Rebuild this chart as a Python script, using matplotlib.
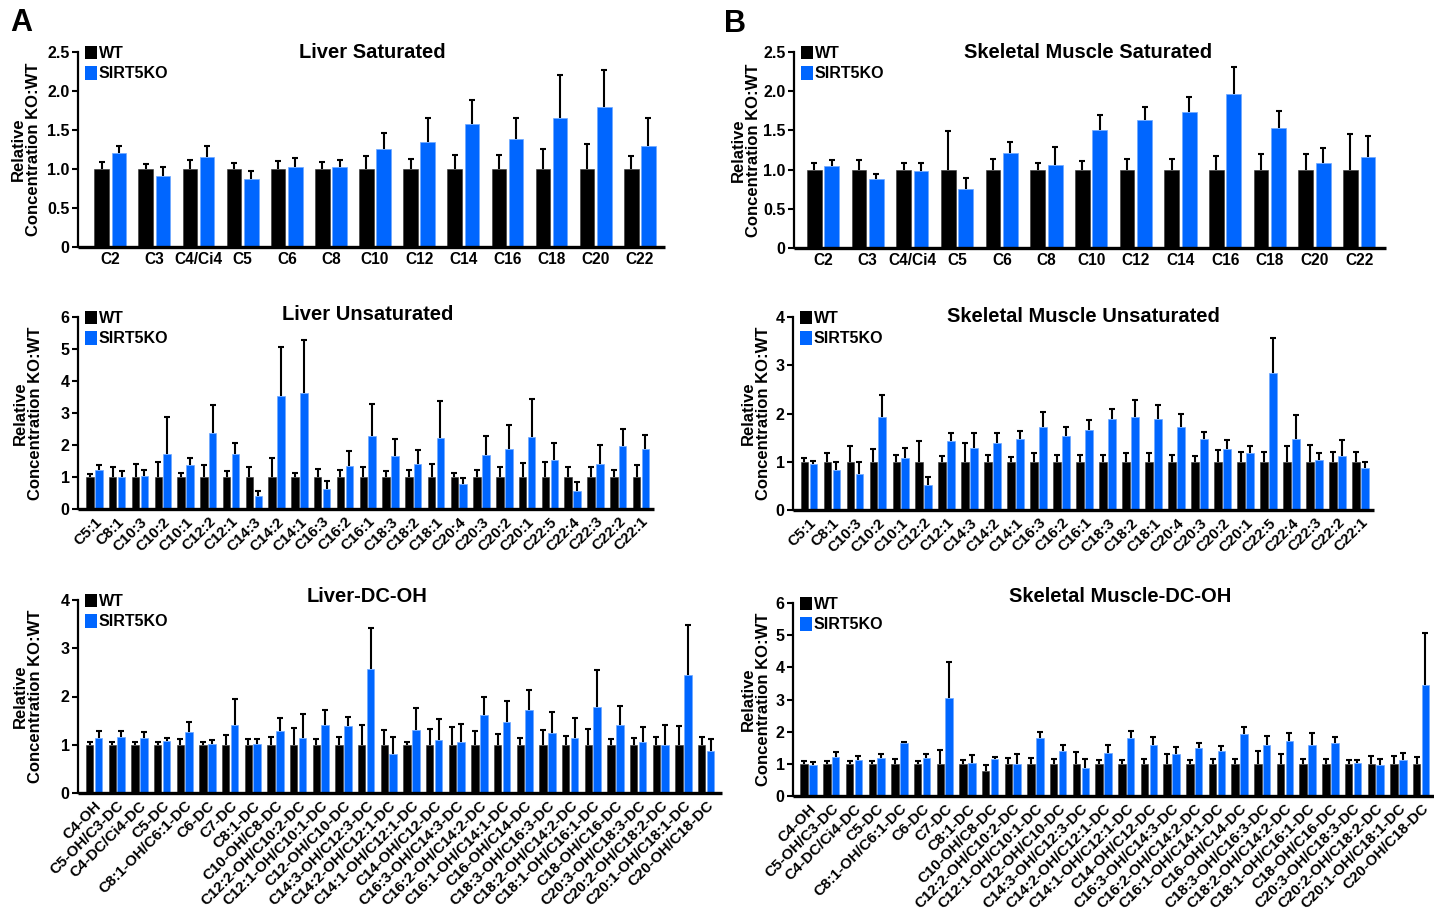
import numpy as np
import matplotlib
matplotlib.use("Agg")
import matplotlib.pyplot as plt
from matplotlib.patches import Patch

plt.rcParams['font.family'] = ['Liberation Sans', 'DejaVu Sans']
plt.rcParams['font.weight'] = 'bold'

# ---------------- data ----------------
sat_labels = ['C2', 'C3', 'C4/Ci4', 'C5', 'C6', 'C8', 'C10', 'C12', 'C14', 'C16', 'C18', 'C20', 'C22']

liver_sat_wt = [1.0, 1.0, 1.0, 1.0, 1.0, 1.0, 1.0, 1.0, 1.0, 1.0, 1.0, 1.0, 1.0]
liver_sat_wt_sem = [0.09, 0.07, 0.11, 0.08, 0.10, 0.09, 0.17, 0.13, 0.18, 0.18, 0.26, 0.32, 0.17]
liver_sat_ko = [1.21, 0.91, 1.15, 0.87, 1.03, 1.02, 1.25, 1.35, 1.58, 1.39, 1.65, 1.79, 1.29]
liver_sat_ko_sem = [0.09, 0.12, 0.14, 0.10, 0.11, 0.09, 0.21, 0.30, 0.31, 0.26, 0.56, 0.48, 0.36]

muscle_sat_wt = [1.0, 1.0, 1.0, 1.0, 1.0, 1.0, 1.0, 1.0, 1.0, 1.0, 1.0, 1.0, 1.0]
muscle_sat_wt_sem = [0.08, 0.12, 0.09, 0.49, 0.13, 0.09, 0.11, 0.13, 0.14, 0.17, 0.20, 0.20, 0.46]
muscle_sat_ko = [1.04, 0.88, 0.98, 0.75, 1.21, 1.06, 1.50, 1.63, 1.74, 1.97, 1.53, 1.08, 1.16]
muscle_sat_ko_sem = [0.08, 0.06, 0.10, 0.14, 0.14, 0.23, 0.20, 0.17, 0.19, 0.34, 0.22, 0.20, 0.27]

unsat_labels = ['C5:1', 'C8:1', 'C10:3', 'C10:2', 'C10:1', 'C12:2', 'C12:1', 'C14:3', 'C14:2',
                'C14:1', 'C16:3', 'C16:2', 'C16:1', 'C18:3', 'C18:2', 'C18:1', 'C20:4', 'C20:3',
                'C20:2', 'C20:1', 'C22:5', 'C22:4', 'C22:3', 'C22:2', 'C22:1']

liver_unsat_wt = [1.0] * 25
liver_unsat_wt_sem = [0.08, 0.31, 0.42, 0.48, 0.14, 0.37, 0.18, 0.30, 0.58, 0.11, 0.24, 0.22, 0.31,
                      0.18, 0.23, 0.42, 0.12, 0.21, 0.32, 0.43, 0.48, 0.30, 0.31, 0.23, 0.37]
liver_unsat_ko = [1.22, 1.01, 1.04, 1.73, 1.37, 2.37, 1.71, 0.42, 3.53, 3.63, 0.64, 1.33, 2.27,
                  1.66, 1.41, 2.23, 0.77, 1.68, 1.88, 2.26, 1.54, 0.55, 1.41, 1.97, 1.86]
liver_unsat_ko_sem = [0.16, 0.17, 0.18, 1.13, 0.21, 0.88, 0.36, 0.15, 1.53, 1.65, 0.25, 0.48, 1.00,
                      0.54, 0.42, 1.15, 0.21, 0.61, 0.75, 1.17, 0.51, 0.28, 0.58, 0.53, 0.46]

muscle_unsat_wt = [1.0] * 25
muscle_unsat_wt_sem = [0.07, 0.19, 0.32, 0.26, 0.14, 0.44, 0.12, 0.38, 0.14, 0.10, 0.19, 0.13, 0.13,
                       0.15, 0.19, 0.18, 0.13, 0.12, 0.25, 0.21, 0.20, 0.32, 0.35, 0.20, 0.20]
muscle_unsat_ko = [0.95, 0.83, 0.75, 1.92, 1.07, 0.52, 1.43, 1.29, 1.38, 1.48, 1.72, 1.54, 1.66,
                   1.89, 1.93, 1.88, 1.72, 1.47, 1.26, 1.18, 2.83, 1.47, 1.03, 1.12, 0.87]
muscle_unsat_ko_sem = [0.06, 0.16, 0.24, 0.46, 0.22, 0.16, 0.16, 0.30, 0.21, 0.16, 0.31, 0.19, 0.20,
                       0.21, 0.34, 0.29, 0.27, 0.14, 0.20, 0.14, 0.73, 0.49, 0.16, 0.34, 0.12]

dcoh_labels = ['C4-OH', 'C5-OH/C3-DC', 'C4-DC/Ci4-DC', 'C5-DC', 'C8:1-OH/C6:1-DC', 'C6-DC', 'C7-DC',
               'C8:1-DC', 'C10-OH/C8-DC', 'C12:2-OH/C10:2-DC', 'C12:1-OH/C10:1-DC', 'C12-OH/C10-DC',
               'C14:3-OH/C12:3-DC', 'C14:2-OH/C12:1-DC', 'C14:1-OH/C12:1-DC', 'C14-OH/C12-DC',
               'C16:3-OH/C14:3-DC', 'C16:2-OH/C14:2-DC', 'C16:1-OH/C14:1-DC', 'C16-OH/C14-DC',
               'C18:3-OH/C16:3-DC', 'C18:2-OH/C14:2-DC', 'C18:1-OH/C16:1-DC', 'C18-OH/C16-DC',
               'C20:3-OH/C18:3-DC', 'C20:2-OH/C18:2-DC', 'C20:1-OH/C18:1-DC', 'C20-OH/C18-DC']

liver_dcoh_wt = [1.0] * 28
liver_dcoh_wt_sem = [0.05, 0.05, 0.05, 0.06, 0.12, 0.06, 0.20, 0.11, 0.17, 0.34, 0.11, 0.17, 0.41, 0.31,
                     0.05, 0.33, 0.37, 0.29, 0.23, 0.14, 0.31, 0.18, 0.32, 0.12, 0.13, 0.17, 0.38, 0.17]
liver_dcoh_ko = [1.15, 1.17, 1.15, 1.07, 1.26, 1.02, 1.40, 1.02, 1.29, 1.14, 1.41, 1.38, 2.56, 0.81,
                 1.31, 1.09, 1.06, 1.62, 1.48, 1.71, 1.25, 1.15, 1.78, 1.40, 1.06, 1.00, 2.45, 0.88]
liver_dcoh_ko_sem = [0.14, 0.12, 0.11, 0.08, 0.21, 0.07, 0.54, 0.09, 0.27, 0.50, 0.30, 0.20, 0.85, 0.36,
                     0.45, 0.44, 0.36, 0.38, 0.42, 0.42, 0.42, 0.41, 0.77, 0.40, 0.31, 0.40, 1.04, 0.24]

muscle_dcoh_wt = [1.0, 1.0, 1.0, 1.0, 1.0, 1.0, 1.0, 1.0, 0.79, 1.0, 1.0, 1.0, 1.0, 1.0,
                  1.0, 1.0, 1.0, 1.0, 1.0, 1.0, 1.0, 1.0, 1.0, 1.0, 1.0, 1.0, 1.0, 1.0]
muscle_dcoh_wt_sem = [0.09, 0.08, 0.08, 0.10, 0.16, 0.08, 0.43, 0.13, 0.18, 0.19, 0.19, 0.15, 0.36, 0.13,
                      0.12, 0.16, 0.30, 0.12, 0.14, 0.14, 0.40, 0.30, 0.14, 0.16, 0.11, 0.23, 0.24, 0.20]
muscle_dcoh_ko = [0.97, 1.20, 1.13, 1.18, 1.64, 1.19, 3.06, 1.04, 1.15, 1.01, 1.79, 1.41, 0.86, 1.35,
                  1.79, 1.60, 1.31, 1.50, 1.40, 1.93, 1.59, 1.72, 1.57, 1.66, 1.03, 0.95, 1.12, 3.46]
muscle_dcoh_ko_sem = [0.10, 0.16, 0.12, 0.14, 0.05, 0.13, 1.11, 0.25, 0.05, 0.31, 0.20, 0.16, 0.30, 0.23,
                      0.24, 0.22, 0.22, 0.16, 0.14, 0.20, 0.28, 0.25, 0.40, 0.18, 0.08, 0.20, 0.21, 1.60]

series_names = ['WT', 'SIRT5KO']
titles = ['Liver Saturated', 'Skeletal Muscle Saturated', 'Liver Unsaturated',
          'Skeletal Muscle Unsaturated', 'Liver-DC-OH', 'Skeletal Muscle-DC-OH']
ylabel_text = 'Relative\nConcentration KO:WT'

# ---------------- layout ----------------
W, H = 1434, 917
BLUE = '#0066ff'


def box(l, r, t, b):
    return [l / W, 1 - b / H, (r - l) / W, (b - t) / H]


fig = plt.figure(figsize=(W / 100, H / 100), dpi=100)


def draw_panel(rect, labels, wt, wt_sem, ko, ko_sem, title, ymax, ystep, yfmt,
               xlim, rotate, title_xy, ylab_x):
    ax = fig.add_axes(box(*rect))
    n = len(labels)
    x = np.arange(n)
    off, bw = 0.195, 0.33
    ax.bar(x - off, wt, width=bw, color='black', edgecolor='#333333', linewidth=0.4, zorder=2,
           label=series_names[0])
    ax.bar(x + off, ko, width=bw, color=BLUE, edgecolor='#6fa8ff', linewidth=0.5, zorder=2,
           label=series_names[1])
    for xs, m, s in ((x - off, wt, wt_sem), (x + off, ko, ko_sem)):
        m = np.asarray(m)
        s = np.asarray(s)
        eb = ax.errorbar(xs, m, yerr=[np.zeros_like(s), s], fmt='none', ecolor='black',
                         elinewidth=1.5, capsize=2.5, capthick=1.5, zorder=3)
        eb.lines[1][0].set_visible(False)
    ax.set_xlim(*xlim)
    ax.set_ylim(0, ymax)
    ticks = np.arange(0, ymax + 1e-9, ystep)
    ax.set_yticks(ticks)
    ax.set_yticklabels([yfmt(t) for t in ticks], fontsize=11.5, fontweight='bold')
    ax.set_xticks(x)
    if rotate:
        ax.set_xticklabels(labels, rotation=45, ha='right', rotation_mode='anchor',
                           fontsize=10.9, fontweight='bold')
        ax.tick_params(axis='x', length=0, pad=4)
    else:
        ax.set_xticklabels(labels, fontsize=11.2, fontweight='bold')
        ax.tick_params(axis='x', length=0, pad=3.5)
    ax.tick_params(axis='y', length=4, width=1.5, direction='out', pad=2)
    for sp in ('top', 'right'):
        ax.spines[sp].set_visible(False)
    ax.spines['left'].set_linewidth(1.6)
    ax.spines['bottom'].set_linewidth(2.4)
    ax.spines['bottom'].set_capstyle('butt')

    l, r, t, b = rect
    wpx, hpx = r - l, b - t
    handles = [Patch(facecolor='black', edgecolor='none'), Patch(facecolor=BLUE, edgecolor='none')]
    ax.legend(handles, series_names, loc='upper left', bbox_to_anchor=(7 / wpx, 1 + 6 / hpx),
              frameon=False, borderaxespad=0, borderpad=0, handlelength=0.78, handleheight=0.9,
              handletextpad=0.08, labelspacing=0.32, prop={'size': 11.5, 'weight': 'bold'})
    fig.text(title_xy[0] / W, 1 - title_xy[1] / H, title, ha='center', va='center',
             fontsize=14.5, fontweight='bold')
    fig.text(ylab_x / W, 1 - ((t + b) / 2) / H, ylabel_text, rotation=90, ha='center',
             va='center', fontsize=12, fontweight='bold', linespacing=1.0, multialignment='center')
    return ax


fmt_sat = lambda v: '0' if v == 0 else f'{v:.1f}'
fmt_int = lambda v: f'{int(round(v))}'

draw_panel((78, 665, 52, 247), sat_labels, liver_sat_wt, liver_sat_wt_sem, liver_sat_ko,
           liver_sat_ko_sem, titles[0], 2.5, 0.5, fmt_sat, (-0.73, 12.57), False, (372, 52), 26)
draw_panel((794, 1386, 52, 248), sat_labels, muscle_sat_wt, muscle_sat_wt_sem, muscle_sat_ko,
           muscle_sat_ko_sem, titles[1], 2.5, 0.5, fmt_sat, (-0.65, 12.6), False, (1088, 52), 746)
draw_panel((78, 654, 317, 509), unsat_labels, liver_unsat_wt, liver_unsat_wt_sem, liver_unsat_ko,
           liver_unsat_ko_sem, titles[2], 6, 1, fmt_int, (-0.72, 24.57), True, (368, 315), 28)
draw_panel((793, 1374, 317, 510), unsat_labels, muscle_unsat_wt, muscle_unsat_wt_sem,
           muscle_unsat_ko, muscle_unsat_ko_sem, titles[3], 4, 1, fmt_int, (-0.69, 24.59), True,
           (1083, 316), 756)
draw_panel((78, 722, 600, 793), dcoh_labels, liver_dcoh_wt, liver_dcoh_wt_sem, liver_dcoh_ko,
           liver_dcoh_ko_sem, titles[4], 4, 1, fmt_int, (-0.71, 27.7), True, (367, 597), 28)
draw_panel((793, 1434, 603, 796), dcoh_labels, muscle_dcoh_wt, muscle_dcoh_wt_sem, muscle_dcoh_ko,
           muscle_dcoh_ko_sem, titles[5], 6, 1, fmt_int, (-0.69, 27.57), True, (1120, 597), 756)

fig.text(21 / W, 1 - 23 / H, 'A', ha='center', va='center', fontsize=22, fontweight='bold')
fig.text(735 / W, 1 - 24 / H, 'B', ha='center', va='center', fontsize=22, fontweight='bold')

fig.savefig('out.png', dpi=100)
